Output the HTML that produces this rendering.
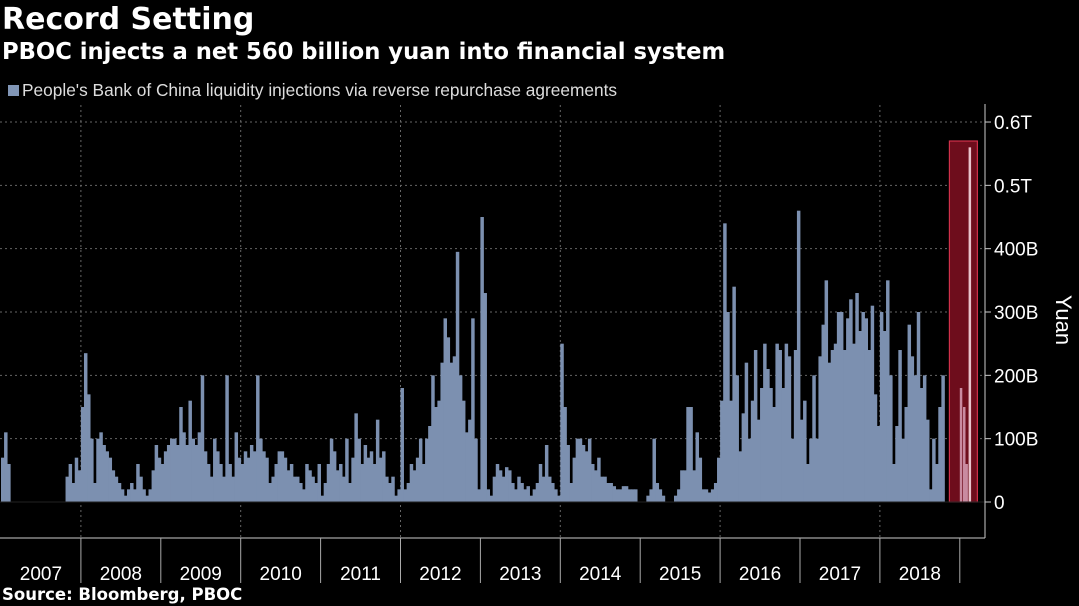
<!DOCTYPE html>
<html><head><meta charset="utf-8">
<style>
html,body{margin:0;padding:0;background:#000;}
body{width:1079px;height:606px;overflow:hidden;position:relative;font-family:"Liberation Sans",sans-serif;color:#fff;}
.t{position:absolute;white-space:nowrap;}
</style></head>
<body>
<div class="t" style="left:2px;top:2px;font:bold 30px 'DejaVu Sans',sans-serif;">Record Setting</div>
<div class="t" style="left:2px;top:39px;font:bold 22.7px 'DejaVu Sans',sans-serif;">PBOC injects a net 560 billion yuan into financial system</div>
<div class="t" style="left:8px;top:80px;font-size:17.3px;color:#ddd;"><span style="display:inline-block;width:11px;height:11px;background:#8196b6;margin-right:3px;"></span>People's Bank of China liquidity injections via reverse repurchase agreements</div>
<div class="t" style="left:2px;top:585px;font:bold 16.5px 'DejaVu Sans',sans-serif;">Source: Bloomberg, PBOC</div>
<svg id="chart" width="1079" height="606" style="position:absolute;left:0;top:0;"></svg>
<script>
const years=[2007,2008,2009,2010,2011,2012,2013,2014,2015,2016,2017,2018];
const v2007=[70,110,60,0,0,0,0,0,0,0,0,0,0,0,0,0,0,0,0,0,0,40,60,30,70,50];
const v2008=[150,235,170,100,30,100,110,90,80,70,50,40,30,20,10,20,30,20,60,40,20,10,20,50,90,70];
const v2009=[60,80,90,100,100,90,150,110,90,160,100,90,110,200,80,60,40,100,80,60,40,200,60,40,110,70];
const v2010=[60,80,70,90,80,200,100,80,70,30,40,60,80,80,70,50,60,40,40,30,20,60,50,40,30,60];
const v2011=[10,30,60,100,80,50,60,40,100,30,70,140,100,60,90,70,80,60,130,70,80,40,30,40,10,20];
const v2012=[180,20,30,60,50,70,100,60,100,120,200,150,160,220,290,260,220,230,395,200,160,110,130,290,100,20];
const v2013=[450,330,20,10,40,60,50,40,55,50,30,20,40,30,20,25,10,20,30,60,40,90,40,30,20,10];
const v2014=[250,150,90,30,70,100,100,90,80,100,60,50,70,40,40,30,30,25,20,20,25,25,20,20,20,0];
const v2015=[0,0,10,20,100,30,20,10,0,0,0,10,20,50,50,150,150,50,110,70,20,20,15,20,30,70];
const v2016=[160,440,300,160,340,200,80,140,220,100,160,240,130,180,250,210,180,150,250,240,180,250,230,100,240,460];
const v2017=[130,160,60,100,200,100,230,280,350,220,240,250,300,300,240,290,320,250,330,270,300,290,240,310,170,120];
const v2018=[300,270,350,200,60,120,240,100,150,280,230,200,300,180,200,130,20,100,60,150,200,0,0,0,0,0];
const series=[v2007,v2008,v2009,v2010,v2011,v2012,v2013,v2014,v2015,v2016,v2017,v2018];
const highlightPos=[0.85,0.89,0.92,0.96];
const highlightVals=[180,150,60,560];
const yTicks=[0,100,200,300,400,500,600];
const yLabels=['0','100B','200B','300B','400B','0.5T','0.6T'];
const NS='http://www.w3.org/2000/svg';
const svg=document.getElementById('chart');
const X0=1,PXY=79.9,Y0=502,PXV=0.6333;
const xs=t=>X0+(t-2007)*PXY;
const ys=v=>Y0-v*PXV;
function mk(tag,at){const e=document.createElementNS(NS,tag);for(const k in at)e.setAttribute(k,at[k]);svg.appendChild(e);return e;}
yTicks.forEach((t,i)=>{ if(t>0){const g=mk('line',{x1:0,x2:985,y1:ys(t),y2:ys(t),stroke:'#666','stroke-dasharray':'2,3','stroke-width':1});

}
const tk=mk('line',{x1:985,x2:991,y1:ys(t),y2:ys(t),stroke:'#ccc'});


const lb=mk('text',{x:994,y:ys(t)+7,fill:'#fff','font-size':'19','font-family':'Liberation Sans, sans-serif'});
lb.textContent=yLabels[i];

});
for(let y=2008;y<=2018;y+=2){const g=mk('line',{x1:xs(y),x2:xs(y),y1:105,y2:538,stroke:'#666','stroke-dasharray':'2,3'});

}
series.forEach((arr,yi)=>{const n=arr.length,w=PXY/n;arr.forEach((v,i)=>{if(v<=0)return;
const r=mk('rect',{x:xs(years[yi]+i/n),y:ys(v),width:w+0.4,height:Y0-ys(v),fill:'#7c90b0'});

});});
const hx1=xs(2018.87),hx2=xs(2019.22);
const hr=mk('rect',{x:hx1,y:ys(570),width:hx2-hx1,height:Y0-ys(570),fill:'#6e0d1c',stroke:'#d0304a','stroke-width':1.2});


highlightVals.forEach((v,i)=>{const r=mk('rect',{x:xs(2018+highlightPos[i]+0.15),y:ys(v),width:2.5,height:Y0-ys(v),fill:i==3?'#e9c3cc':'#c98aa0'});

});
const ax=mk('line',{x1:0,x2:985,y1:Y0,y2:Y0,stroke:'#222'});


const ar=mk('line',{x1:985,x2:985,y1:104,y2:538,stroke:'#ccc'});


const ab=mk('line',{x1:0,x2:985,y1:538,y2:538,stroke:'#ccc'});


years.forEach(y=>{const s=mk('line',{x1:xs(y+1),x2:xs(y+1),y1:538,y2:583,stroke:'#aaa'});


const t=mk('text',{x:xs(y+0.5),y:580,fill:'#fff','font-size':'19','text-anchor':'middle','font-family':'Liberation Sans, sans-serif'});
t.textContent=y;

});
const yt=mk('text',{x:1056,y:320,fill:'#fff','font-size':'22','text-anchor':'middle',transform:'rotate(90 1056 320)','font-family':'Liberation Sans, sans-serif'});
yt.textContent='Yuan';


</script>
</body></html>
